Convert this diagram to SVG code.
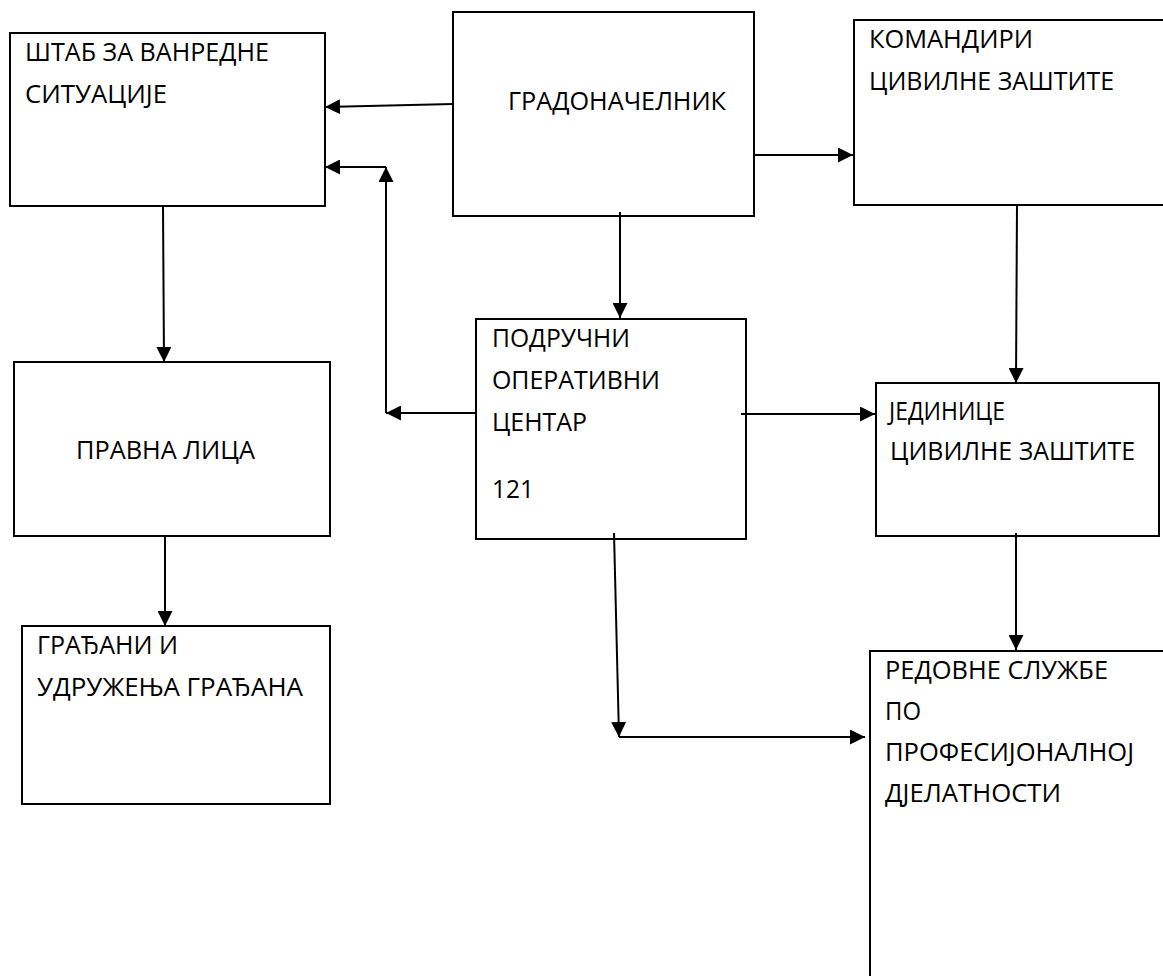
<svg xmlns="http://www.w3.org/2000/svg" width="1163" height="976" viewBox="0 0 1163 976">
<defs>
<style>
.box{fill:#fff;stroke:#000;stroke-width:2}
.open{fill:none;stroke:#000;stroke-width:2}
.t{font-family:"Open Sans","Noto Sans","DejaVu Sans",sans-serif;font-size:25px;fill:#000}
.c line,.c path{stroke:#000;stroke-width:2;fill:none}
</style>
<marker id="ah" markerUnits="userSpaceOnUse" markerWidth="15" markerHeight="15" refX="15" refY="7.5" orient="auto">
<path d="M0,0 L15,7.5 L0,15 z" fill="#000"/>
</marker>
</defs>
<rect width="1163" height="976" fill="#fff"/>

<g id="stab">
<rect class="box" x="10" y="33" width="315" height="173"/>
<text class="t" x="25" y="61" textLength="244" lengthAdjust="spacingAndGlyphs">ШТАБ ЗА ВАНРЕДНЕ</text>
<text class="t" x="25" y="103" textLength="142" lengthAdjust="spacingAndGlyphs">СИТУАЦИЈЕ</text>
</g>

<g id="gradonacelnik">
<rect class="box" x="453" y="12" width="301" height="204"/>
<text class="t" x="508" y="110" textLength="218" lengthAdjust="spacingAndGlyphs">ГРАДОНАЧЕЛНИК</text>
</g>

<g id="komandiri">
<path class="open" d="M1165,20 H854 V205 H1165"/>
<text class="t" x="869" y="48" textLength="164" lengthAdjust="spacingAndGlyphs">КОМАНДИРИ</text>
<text class="t" x="869" y="90" textLength="245" lengthAdjust="spacingAndGlyphs">ЦИВИЛНЕ ЗАШТИТЕ</text>
</g>

<g id="podrucni">
<rect class="box" x="476" y="319" width="270" height="220"/>
<text class="t" x="492" y="347" textLength="138" lengthAdjust="spacingAndGlyphs">ПОДРУЧНИ</text>
<text class="t" x="492" y="389" textLength="168" lengthAdjust="spacingAndGlyphs">ОПЕРАТИВНИ</text>
<text class="t" x="492" y="431" textLength="95" lengthAdjust="spacingAndGlyphs">ЦЕНТАР</text>
<text class="t" x="492" y="498" textLength="42" lengthAdjust="spacingAndGlyphs">121</text>
</g>

<g id="jedinice">
<rect class="box" x="876" y="383" width="283" height="153"/>
<text class="t" x="889" y="420" textLength="116" lengthAdjust="spacingAndGlyphs">ЈЕДИНИЦЕ</text>
<text class="t" x="890" y="460" textLength="245" lengthAdjust="spacingAndGlyphs">ЦИВИЛНЕ ЗАШТИТЕ</text>
</g>

<g id="pravna">
<rect class="box" x="14" y="362" width="316" height="174"/>
<text class="t" x="76" y="459" textLength="179" lengthAdjust="spacingAndGlyphs">ПРАВНА ЛИЦА</text>
</g>

<g id="gradjani">
<rect class="box" x="22" y="626" width="308" height="178"/>
<text class="t" x="37" y="654" textLength="141" lengthAdjust="spacingAndGlyphs">ГРАЂАНИ И</text>
<text class="t" x="37" y="696" textLength="266" lengthAdjust="spacingAndGlyphs">УДРУЖЕЊА ГРАЂАНА</text>
</g>

<g id="redovne">
<path class="open" d="M1165,651 H870 V980"/>
<text class="t" x="885" y="679" textLength="223" lengthAdjust="spacingAndGlyphs">РЕДОВНЕ СЛУЖБЕ</text>
<text class="t" x="885" y="720" textLength="36" lengthAdjust="spacingAndGlyphs">ПО</text>
<text class="t" x="885" y="761" textLength="249" lengthAdjust="spacingAndGlyphs">ПРОФЕСИЈОНАЛНОЈ</text>
<text class="t" x="885" y="802" textLength="176" lengthAdjust="spacingAndGlyphs">ДЈЕЛАТНОСТИ</text>
</g>

<g id="connectors" class="c">
<line x1="453" y1="104" x2="325" y2="107" marker-end="url(#ah)"/>
<line x1="476" y1="413" x2="386" y2="413" marker-end="url(#ah)"/>
<line x1="386" y1="413" x2="386" y2="167" marker-end="url(#ah)"/>
<line x1="386" y1="167" x2="325" y2="167" marker-end="url(#ah)"/>
<line x1="620" y1="212" x2="620" y2="318" marker-end="url(#ah)"/>
<line x1="754" y1="155" x2="853" y2="155" marker-end="url(#ah)"/>
<line x1="1017" y1="205" x2="1016" y2="383" marker-end="url(#ah)"/>
<line x1="163" y1="206" x2="164" y2="362" marker-end="url(#ah)"/>
<line x1="165" y1="536" x2="165" y2="626" marker-end="url(#ah)"/>
<line x1="741" y1="414" x2="875" y2="414" marker-end="url(#ah)"/>
<line x1="614" y1="533" x2="619" y2="737" marker-end="url(#ah)"/>
<line x1="619" y1="737" x2="865" y2="737" marker-end="url(#ah)"/>
<line x1="1016" y1="533" x2="1016" y2="650" marker-end="url(#ah)"/>
</g>
</svg>
